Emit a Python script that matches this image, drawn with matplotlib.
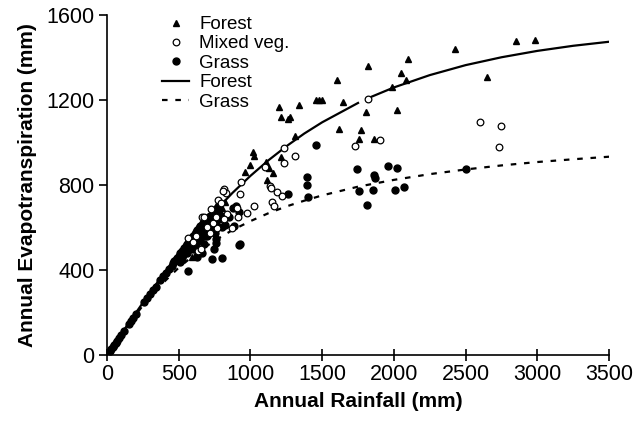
import numpy as np
import matplotlib
matplotlib.use('Agg')
import matplotlib.pyplot as plt

plt.rcParams['font.family'] = ['Liberation Sans', 'DejaVu Sans']

forest_p = [2854, 2982, 2426, 2652, 2101, 2052, 2085, 1985, 1822, 1606, 1455, 1475, 1497,
            1340, 1643, 1804, 2020, 1615, 1771, 1755, 1859, 1197, 1211, 1265, 1275, 1313,
            1020, 1025, 997, 962, 1106, 1132, 1155, 1113, 1216, 825, 800, 780, 590, 700, 760]
forest_et = [1479, 1482, 1438, 1310, 1393, 1329, 1293, 1263, 1361, 1294, 1200, 1200, 1200,
             1176, 1189, 1144, 1153, 1062, 1057, 1016, 1015, 1166, 1118, 1112, 1122, 1031,
             957, 937, 894, 861, 907, 879, 858, 824, 933, 720, 690, 660, 461, 640, 700]

mixed_p = [1817, 2601, 2747, 2733, 1729, 1903, 1234, 1313, 1236, 1102, 934, 927, 1136, 1146,
           1183, 1220, 1148, 1166, 1025, 974, 904, 915, 869, 818, 827, 811, 776, 795, 725,
           660, 834, 818, 764, 718, 637, 658, 567, 676, 740, 700, 620, 760, 600]
mixed_et = [1206, 1098, 1079, 979, 985, 1010, 973, 938, 905, 883, 813, 758, 795, 786,
            766, 750, 719, 703, 701, 667, 690, 651, 596, 780, 764, 773, 729, 715, 686,
            651, 664, 639, 596, 573, 489, 500, 549, 648, 620, 600, 560, 650, 530]

grass_p = [1457, 1397, 1397, 1400, 1743, 1957, 2020, 1862, 1868, 1755, 1855, 2006, 2071, 1813,
           2501, 1264, 920, 888, 927,
           20, 30, 40, 50, 60, 70, 85, 100, 120, 150, 170, 180, 200, 260, 280, 300, 320, 340,
           370, 390, 410, 430, 450, 460, 480, 490, 500, 510, 520, 540, 550, 560, 570, 580,
           590, 600, 610, 620, 630, 640, 650, 660, 670, 680, 690, 700, 710, 720, 730, 740,
           750, 760, 770, 780,
           560, 600, 620, 650, 680, 700, 720, 740, 760, 780, 800, 820, 850, 880, 900,
           760, 760, 748, 732, 802, 922, 678, 660, 627, 520, 509, 567, 640, 700, 730, 750,
           470, 530, 580, 610, 650, 690, 720, 760, 790, 550, 600, 640, 680, 720]
grass_et = [990, 836, 798, 745, 877, 889, 880, 845, 835, 773, 778, 778, 792, 707,
            874, 756, 675, 609, 521,
            18, 28, 38, 48, 57, 67, 82, 96, 114, 144, 162, 172, 191, 250, 268, 287, 305, 322,
            352, 370, 388, 405, 420, 432, 448, 458, 468, 478, 490, 505, 515, 522, 535, 545,
            552, 560, 570, 578, 590, 598, 605, 612, 620, 628, 635, 640, 648, 655, 660, 665,
            672, 680, 690, 700,
            480, 500, 520, 540, 560, 580, 600, 620, 630, 640, 600, 610, 650, 690, 700,
            545, 526, 497, 450, 458, 518, 524, 478, 463, 458, 436, 397, 540, 560, 590, 575,
            440, 470, 500, 530, 560, 590, 615, 610, 660, 510, 545, 575, 600, 635]

# Fitted curves (gap in forest line near 1800 mm)
forest_curve_p = [0, 100, 250, 375, 500, 625, 750, 875, 1000, 1125, 1250, 1375, 1500, 1750,
                  np.nan, 1825, 2000, 2250, 2500, 2750, 3000, 3250, 3500]
forest_curve_et = [0, 100, 246, 364, 475, 578, 675, 763, 843, 916, 982, 1042, 1095, 1186,
                   np.nan, 1210, 1259, 1317, 1364, 1401, 1431, 1455, 1474]
grass_curve_p = [0, 100, 250, 375, 500, 625, 750, 875, 1000, 1125, 1250, 1375, 1500, 1750,
                 2000, 2250, 2500, 2750, 3000, 3250, 3500]
grass_curve_et = [0, 99, 233, 329, 411, 480, 538, 588, 630, 667, 699, 726, 751, 792,
                  824, 851, 873, 892, 908, 921, 933]

fig = plt.figure(figsize=(6.42, 4.23), dpi=100)
ax = fig.add_axes([0.1667, 0.1608, 0.782, 0.8038])

ax.plot(forest_curve_p, forest_curve_et, '-', color='black', lw=1.6, label='Forest', zorder=2)
ax.plot(grass_curve_p, grass_curve_et, color='black', lw=1.6, linestyle=(0, (2.5, 3.5)),
        label='Grass', zorder=2)

ax.plot(forest_p, forest_et, '^', color='black', ms=5, ls='none', label='Forest', zorder=3)
ax.plot(mixed_p, mixed_et, 'o', mfc='white', mec='black', mew=0.9, ms=4.8, ls='none',
        label='Mixed veg.', zorder=4)
ax.plot(grass_p, grass_et, 'o', color='black', ms=5, ls='none', label='Grass', zorder=3)

ax.set_xlim(0, 3500)
ax.set_ylim(0, 1600)
ax.set_xticks([0, 500, 1000, 1500, 2000, 2500, 3000, 3500])
ax.set_yticks([0, 400, 800, 1200, 1600])
for s in ['top', 'right']:
    ax.spines[s].set_visible(False)
for s in ['left', 'bottom']:
    ax.spines[s].set_linewidth(1.2)
ax.tick_params(axis='x', direction='inout', length=9, width=1.2, labelsize=15.5, pad=2)
ax.tick_params(axis='y', direction='out', length=6, width=1.2, labelsize=15.5, pad=3)

ax.set_xlabel('Annual Rainfall (mm)', fontsize=15, fontweight='bold', labelpad=5)
ax.set_ylabel('Annual Evapotranspiration (mm)', fontsize=15, fontweight='bold', labelpad=7)

h, l = ax.get_legend_handles_labels()
order = [2, 3, 4, 0, 1]
ax.legend([h[i] for i in order], [l[i] for i in order], loc='upper left',
          bbox_to_anchor=(162 / 642, 1 - 16 / 423), bbox_transform=fig.transFigure,
          frameon=False, fontsize=13.5, handlelength=1.45, handletextpad=0.55,
          labelspacing=0.12, borderpad=0, borderaxespad=0)

fig.savefig('out.png', dpi=100)
